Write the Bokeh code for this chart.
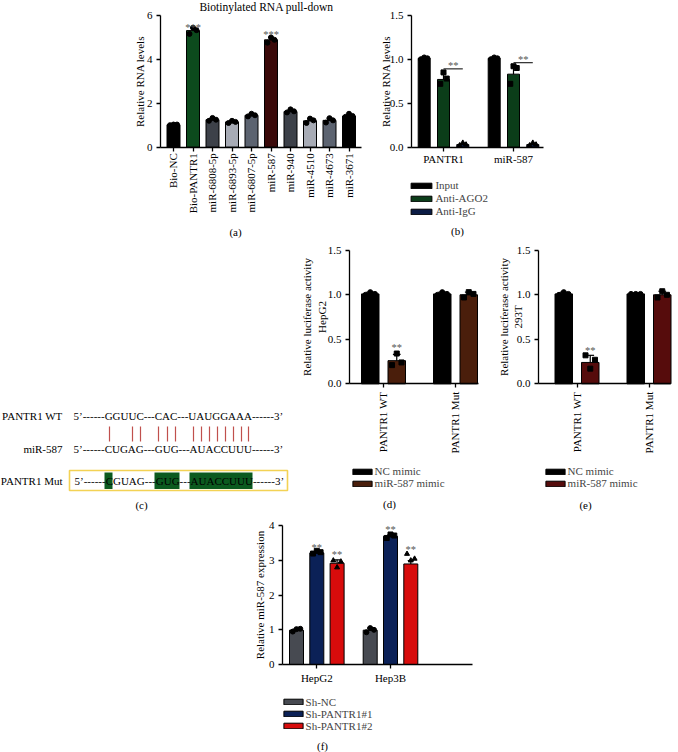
import numpy as np
from math import pi
from bokeh.plotting import figure
from bokeh.models import (Range1d, FixedTicker, PrintfTickFormatter, Label, LabelSet,
                          ColumnDataSource, Legend, LegendItem, Spacer)
from bokeh.layouts import row, column
from bokeh.embed import file_html
from bokeh.resources import INLINE
from bokeh.core.properties import value

FONT = "Liberation Serif"

# ---------------- data ----------------
# (a) Biotinylated RNA pull-down
a_title = "Biotinylated RNA pull-down"
a_cats = ["Bio-NC", "Bio-PANTR1", "miR-6808-5p", "miR-6893-5p", "miR-6807-5p",
          "miR-587", "miR-940", "miR-4510", "miR-4673", "miR-3671"]
a_mean = [1.02, 5.30, 1.25, 1.15, 1.45, 4.88, 1.62, 1.20, 1.22, 1.42]
a_sd = [0.02, 0.13, 0.07, 0.05, 0.06, 0.11, 0.07, 0.10, 0.10, 0.06]
a_rep1 = [1.00, 5.15, 1.20, 1.10, 1.40, 4.75, 1.58, 1.10, 1.12, 1.38]
a_rep2 = [1.03, 5.43, 1.33, 1.20, 1.52, 4.99, 1.72, 1.30, 1.32, 1.52]
a_rep3 = [1.03, 5.32, 1.25, 1.15, 1.45, 4.88, 1.63, 1.22, 1.22, 1.42]
a_yticks = [0, 2, 4, 6]
a_sig_cats = ["Bio-PANTR1", "miR-587"]
a_sig_text = ["***", "***"]
a_sig_y = [5.30, 4.97]
a_ylabel = "Relative RNA levels"

# (b) RIP
b_groups = ["PANTR1", "miR-587"]
b_series = ["Input", "Anti-AGO2", "Anti-IgG"]
b_input_mean = [1.01, 1.01]
b_ago2_mean = [0.77, 0.83]
b_igg_mean = [0.03, 0.03]
b_input_sd = [0.01, 0.01]
b_ago2_sd = [0.07, 0.11]
b_igg_sd = [0.015, 0.015]
b_input_pts = [[1.00, 1.02, 1.01], [1.00, 1.02, 1.01]]
b_ago2_pts = [[0.72, 0.85, 0.78], [0.72, 0.92, 0.90]]
b_igg_pts = [[0.02, 0.05, 0.03], [0.02, 0.05, 0.03]]
b_sig_y = [0.89, 0.96]
b_sig_text = ["**", "**"]
b_yticks = [0, 0.5, 1.0, 1.5]

# (c) binding sites
c_names = ["PANTR1 WT", "miR-587", "PANTR1 Mut"]
c_seqs = ["5\u2019------GGUUC---CAC---UAUGGAAA------3\u2019",
          "5\u2019------CUGAG---GUG---AUACCUUU------3\u2019",
          "5\u2019------CGUAG---GUG---AUACCUUU------3\u2019"]

# (d) luciferase HepG2
d_groups = ["PANTR1 WT", "PANTR1 Mut"]
d_series = ["NC mimic", "miR-587 mimic"]
d_nc_mean = [1.01, 1.01]
d_mimic_mean = [0.26, 1.00]
d_nc_sd = [0.02, 0.02]
d_mimic_sd = [0.07, 0.03]
d_nc_pts = [[1.00, 1.03, 1.01], [1.00, 1.03, 1.01]]
d_mimic_pts = [[0.21, 0.34, 0.24], [0.97, 1.03, 1.01]]
d_sig_y = [0.37]
d_sig_text = ["**"]

# (e) luciferase 293T
e_nc_mean = [1.01, 1.01]
e_mimic_mean = [0.24, 1.00]
e_nc_sd = [0.02, 0.01]
e_mimic_sd = [0.08, 0.04]
e_nc_pts = [[1.00, 1.03, 1.01], [1.01, 1.01, 1.01]]
e_mimic_pts = [[0.32, 0.17, 0.27], [0.97, 1.04, 1.00]]
e_sig_y = [0.33]
e_sig_text = ["**"]
de_yticks = [0, 0.5, 1.0, 1.5]

# (f) miR-587 expression
f_groups = ["HepG2", "Hep3B"]
f_series = ["Sh-NC", "Sh-PANTR1#1", "Sh-PANTR1#2"]
f_nc_mean = [0.99, 0.99]
f_sh1_mean = [3.22, 3.70]
f_sh2_mean = [2.92, 2.90]
f_nc_sd = [0.04, 0.06]
f_sh1_sd = [0.04, 0.05]
f_sh2_sd = [0.10, 0.10]
f_nc_pts = [[0.95, 1.02, 1.03], [0.93, 1.05, 1.00]]
f_sh1_pts = [[3.20, 3.28, 3.24], [3.65, 3.75, 3.72]]
f_sh2_pts = [[3.00, 2.80, 2.97], [3.19, 3.00, 3.05]]
f_sig_y = [3.28, 3.07, 3.79, 3.22]
f_sig_text = ["**", "**", "**", "**"]
f_yticks = [0, 1, 2, 3, 4]

# ---------------- layout calibration (pixels of the 678x752 picture) ----------------
CAL_A = dict(box=(0, 0, 375, 240), xpx=173.0, xs=19.5, ypx0=146.7, ys=22.0, yax=160, xend=361)
CAL_B = dict(box=(375, 0, 678, 240), xpx=443.0, xs=70.0, ypx0=146.7, ys=88.0, yax=411, xend=543)
CAL_D = dict(box=(297, 240, 482, 515), xpx=383.0, xs=72.0, ypx0=383.3, ys=89.0, yax=349, xend=478)
CAL_E = dict(box=(482, 240, 678, 515), xpx=576.5, xs=72.0, ypx0=383.3, ys=89.0, yax=538, xend=670)
CAL_F = dict(box=(200, 515, 480, 752), xpx=316.3, xs=73.7, ypx0=664.0, ys=34.67, yax=282, xend=472)

JIT = [-0.27, 0.0, 0.27]


def dx(cal, px):
    return (px - cal["xpx"]) / cal["xs"]


def dy(cal, py):
    return (cal["ypx0"] - py) / cal["ys"]


def add_label(p, cal, rx, ry, text, size="11px", angle=0.0, align="center", baseline="middle", color="black"):
    p.add_layout(Label(x=dx(cal, rx), y=dy(cal, ry), text=text, angle=angle, text_font=FONT,
                       text_font_size=size, text_align=align, text_baseline=baseline, text_color=color))


def make_fig(cal, yticks, yfmt, xticks, xlabels, vertical=False, xstand=3):
    bx0, by0, bx1, by1 = cal["box"]
    p = figure(width=bx1 - bx0, height=by1 - by0,
               x_range=Range1d(dx(cal, bx0), dx(cal, bx1)), y_range=Range1d(dy(cal, by1), dy(cal, by0)),
               output_backend="svg", toolbar_location=None, min_border=0)
    p.outline_line_color = None
    p.grid.visible = False
    p.background_fill_color = "white"
    p.border_fill_color = "white"
    for ax in (p.xaxis[0], p.yaxis[0]):
        ax.axis_line_width = 1.3
        ax.axis_line_color = "black"
        ax.major_tick_line_width = 1.3
        ax.major_tick_line_color = "black"
        ax.major_tick_in = 0
        ax.major_tick_out = 4
        ax.minor_tick_line_color = None
        ax.major_label_text_font = FONT
        ax.major_label_text_font_size = "11px"
        ax.major_label_text_color = "black"
    yax = p.yaxis[0]
    yax.ticker = FixedTicker(ticks=yticks)
    yax.formatter = PrintfTickFormatter(format=yfmt)
    yax.major_label_standoff = 4
    yax.fixed_location = dx(cal, cal["yax"])
    yax.bounds = (0, yticks[-1])
    xax = p.xaxis[0]
    xax.ticker = FixedTicker(ticks=xticks)
    xax.major_label_overrides = {t: l for t, l in zip(xticks, xlabels)}
    if vertical:
        xax.major_label_orientation = pi / 2
    xax.major_label_standoff = xstand
    xax.fixed_location = 0
    xax.bounds = (dx(cal, cal["yax"]), dx(cal, cal["xend"]))
    return p


def add_points(p, xs, pts, width, marker, size):
    px, py = [], []
    for g, vals in enumerate(pts):
        for k, v in enumerate(vals):
            px.append(xs[g] + JIT[k] * width)
            py.append(v)
    p.scatter(x=px, y=py, marker=marker, size=size, fill_color="black", line_color="black")


def add_errbars(p, xs, means, sds, width):
    tops = [m + s for m, s in zip(means, sds)]
    p.segment(x0=xs, y0=means, x1=xs, y1=tops, line_color="black", line_width=1.2)
    p.segment(x0=[x - width * 0.22 for x in xs], y0=tops, x1=[x + width * 0.22 for x in xs], y1=tops,
              line_color="black", line_width=1.2)


def grouped(p, n, means, sds, pts, colors, markers, offsets, width, msize):
    rs = []
    for m, sd, pt, col, mk, off in zip(means, sds, pts, colors, markers, offsets):
        xs = [g + off for g in range(n)]
        r = p.vbar(x=xs, top=m, width=width, fill_color=col, line_color="black", line_width=1)
        rs.append(r)
        add_errbars(p, xs, m, sd, width)
        add_points(p, xs, pt, width, mk, msize)
    return rs


def add_legend(p, cal, labels, rs, patch_left, top, gw, item_h):
    bx0, by0, bx1, by1 = cal["box"]
    loc = (patch_left - 0.1 * gw - bx0, by1 - (top + item_h * len(labels)))
    leg = Legend(items=[LegendItem(label=l, renderers=[r]) for l, r in zip(labels, rs)],
                 location=loc, orientation="vertical", glyph_width=gw, glyph_height=7,
                 label_standoff=1, spacing=0, padding=0, margin=0, label_height=int(item_h),
                 border_line_color=None, background_fill_alpha=0,
                 label_text_font=FONT, label_text_font_size="11px")
    p.add_layout(leg)


def add_stars(p, xs, ys, texts, size="10.5px"):
    src = ColumnDataSource(dict(x=xs, y=ys, t=texts))
    p.add_layout(LabelSet(x="x", y="y", text="t", source=src, text_align="center",
                          text_baseline="alphabetic", text_font=value(FONT),
                          text_font_size=size, text_color="#555555"))


# ---------------- (a) ----------------
a_idx = list(range(len(a_cats)))
a_colors = ["#000000", "#0c4a1d", "#3d4149", "#a7abb5", "#5c6370",
            "#3a0909", "#3d4149", "#a7abb5", "#5c6370", "#000000"]
pa = make_fig(CAL_A, a_yticks, "%d", a_idx, a_cats, vertical=True, xstand=2)
bw_a = 13 / 19.5
pa.vbar(x=a_idx, top=a_mean, width=bw_a, fill_color=a_colors, line_color="black", line_width=1)
add_errbars(pa, a_idx, a_mean, a_sd, bw_a)
add_points(pa, a_idx, [list(v) for v in zip(a_rep1, a_rep2, a_rep3)], bw_a, "circle", 5)
add_stars(pa, [a_cats.index(c) for c in a_sig_cats], a_sig_y, a_sig_text)
add_label(pa, CAL_A, 266, 6, a_title, size="11.5px")
add_label(pa, CAL_A, 139, 81, a_ylabel, angle=pi / 2)
add_label(pa, CAL_A, 235, 231, "(a)")

# ---------------- (b) ----------------
pb = make_fig(CAL_B, b_yticks, "%.1f", [0, 1], b_groups, xstand=2)
off_b = 19.3 / 70
bw_b = 12 / 70
rs_b = grouped(pb, 2, [b_input_mean, b_ago2_mean, b_igg_mean], [b_input_sd, b_ago2_sd, b_igg_sd],
               [b_input_pts, b_ago2_pts, b_igg_pts], ["#000000", "#0b3d19", "#0b1c45"],
               ["circle", "square", "triangle"], [-off_b, 0, off_b], bw_b, 5)
pb.segment(x0=[g for g in range(2)], y0=b_sig_y, x1=[g + off_b for g in range(2)], y1=b_sig_y,
           line_color="black", line_width=1)
add_stars(pb, [g + off_b / 2 for g in range(2)], b_sig_y, b_sig_text)
add_legend(pb, CAL_B, b_series, rs_b, 411, 178.5, 26, 13)
add_label(pb, CAL_B, 385, 81, a_ylabel, angle=pi / 2)
add_label(pb, CAL_B, 457, 230, "(b)")

# ---------------- (c) ----------------
pc = figure(width=297, height=275, x_range=Range1d(0, 297), y_range=Range1d(515, 240),
            output_backend="svg", toolbar_location=None, x_axis_location=None, y_axis_location=None,
            min_border=0)
pc.outline_line_color = None
pc.grid.visible = False
row_y = [415, 448, 480]
pair_x = [109, 132, 140, 158, 167, 175, 193, 201, 209, 217, 225, 233, 241, 248]
pc.segment(x0=pair_x, y0=[426] * len(pair_x), x1=pair_x, y1=[441] * len(pair_x),
           line_color="#c0504d", line_width=1.2)
mut_left = [104, 154, 189]
mut_right = [112, 179, 252]
pc.quad(left=mut_left, right=mut_right, top=[472] * 3, bottom=[488.5] * 3,
        fill_color="#0b5a1f", line_color=None)
pc.quad(left=[69], right=[287], top=[470], bottom=[490], fill_color=None,
        line_color="#f3d255", line_width=1.6)
pc.text(x=[62] * 3, y=row_y, text=c_names, text_font=value(FONT), text_font_size="11px",
        text_align="right", text_baseline="middle", text_color="black")
pc.text(x=[73, 73, 74], y=row_y, text=c_seqs, text_font=value(FONT), text_font_size="11px",
        text_align="left", text_baseline="middle", text_color="black")
pc.text(x=[141], y=[504], text=["(c)"], text_font=value(FONT), text_font_size="11px",
        text_align="center", text_baseline="middle", text_color="black")

# ---------------- (d) ----------------
off_de = 13.25 / 72
bw_de = 17.5 / 72
pd_ = make_fig(CAL_D, de_yticks, "%.1f", [0, 1], d_groups, vertical=True, xstand=4)
rs_d = grouped(pd_, 2, [d_nc_mean, d_mimic_mean], [d_nc_sd, d_mimic_sd], [d_nc_pts, d_mimic_pts],
               ["#000000", "#4a1e0b"], ["circle", "square"], [-off_de, off_de], bw_de, 5)
add_stars(pd_, [off_de], d_sig_y, d_sig_text)
add_legend(pd_, CAL_D, d_series, rs_d, 352, 465, 24, 12.2)
add_label(pd_, CAL_D, 306, 316.5, "Relative luciferase activity", angle=pi / 2)
add_label(pd_, CAL_D, 321, 316.5, "HepG2", angle=pi / 2)
add_label(pd_, CAL_D, 389, 503, "(d)")

# ---------------- (e) ----------------
pe = make_fig(CAL_E, de_yticks, "%.1f", [0, 1], d_groups, vertical=True, xstand=4)
rs_e = grouped(pe, 2, [e_nc_mean, e_mimic_mean], [e_nc_sd, e_mimic_sd], [e_nc_pts, e_mimic_pts],
               ["#000000", "#560c0c"], ["circle", "square"], [-off_de, off_de], bw_de, 5)
add_stars(pe, [off_de], e_sig_y, e_sig_text)
add_legend(pe, CAL_E, d_series, rs_e, 545, 465, 24, 12.2)
add_label(pe, CAL_E, 503, 316.5, "Relative luciferase activity", angle=pi / 2)
add_label(pe, CAL_E, 517, 316.5, "293T", angle=pi / 2)
add_label(pe, CAL_E, 585, 504, "(e)")

# ---------------- (f) ----------------
off_f = 20.3 / 73.7
bw_f = 14 / 73.7
pf = make_fig(CAL_F, f_yticks, "%d", [0, 1], f_groups, xstand=3)
rs_f = grouped(pf, 2, [f_nc_mean, f_sh1_mean, f_sh2_mean], [f_nc_sd, f_sh1_sd, f_sh2_sd],
               [f_nc_pts, f_sh1_pts, f_sh2_pts], ["#474a51", "#0b2157", "#d80c0c"],
               ["circle", "square", "triangle"], [-off_f, 0, off_f], bw_f, 5)
add_stars(pf, [off_f * 0, off_f, 1, 1 + off_f], f_sig_y, f_sig_text)
add_legend(pf, CAL_F, f_series, rs_f, 283, 695, 24, 12.2)
add_label(pf, CAL_F, 259, 594.5, "Relative miR-587 expression", angle=pi / 2)
add_label(pf, CAL_F, 322, 745, "(f)")

layout = column(row(pa, pb), row(pc, pd_, pe), row(Spacer(width=200, height=237), pf))

open("out.html", "w").write(file_html(layout, INLINE))
